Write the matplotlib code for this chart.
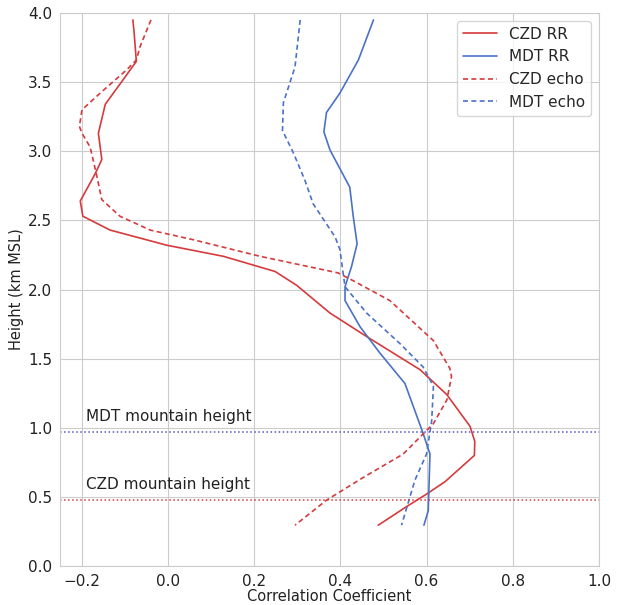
import matplotlib
matplotlib.use("Agg")
import matplotlib.pyplot as plt
import seaborn as sns

# correlation profiles (height in km MSL)
czd_rr_h = [3.95, 3.855, 3.65, 3.52, 3.34, 3.13, 2.94, 2.84, 2.64, 2.53, 2.43, 2.32,
            2.24, 2.13, 2.03, 1.83, 1.66, 1.42, 1.24, 1.01, 0.90, 0.80, 0.61, 0.52, 0.43, 0.295]
czd_rr = [-0.081, -0.078, -0.073, -0.103, -0.145, -0.161, -0.153, -0.168, -0.203, -0.197,
          -0.134, -0.002, 0.129, 0.249, 0.299, 0.376, 0.461, 0.585, 0.647, 0.701, 0.712,
          0.711, 0.643, 0.600, 0.554, 0.488]

czd_echo_h = [3.95, 3.76, 3.66, 3.59, 3.42, 3.30, 3.18, 3.13, 3.03, 2.84, 2.65, 2.53, 2.43,
              2.36, 2.24, 2.12, 2.07, 1.92, 1.63, 1.43, 1.37, 1.20, 1.03, 0.81, 0.64, 0.476, 0.295]
czd_echo = [-0.039, -0.064, -0.073, -0.095, -0.157, -0.199, -0.205, -0.199, -0.180, -0.166,
            -0.153, -0.111, -0.041, 0.059, 0.214, 0.395, 0.426, 0.515, 0.616, 0.654, 0.658,
            0.647, 0.616, 0.546, 0.453, 0.368, 0.295]

mdt_rr_h = [3.95, 3.66, 3.42, 3.28, 3.14, 3.01, 2.74, 2.53, 2.33, 2.165, 2.02, 1.92, 1.73,
            1.54, 1.32, 0.96, 0.81, 0.40, 0.295]
mdt_rr = [0.477, 0.442, 0.399, 0.368, 0.362, 0.376, 0.422, 0.430, 0.439, 0.426, 0.411,
          0.411, 0.446, 0.492, 0.550, 0.592, 0.608, 0.604, 0.594]

mdt_echo_h = [3.95, 3.61, 3.35, 3.15, 2.99, 2.79, 2.62, 2.38, 2.29, 2.02, 1.83, 1.61, 1.44,
              1.30, 1.05, 0.81, 0.62, 0.295]
mdt_echo = [0.307, 0.295, 0.268, 0.266, 0.291, 0.318, 0.337, 0.388, 0.399, 0.411, 0.461,
            0.538, 0.592, 0.616, 0.612, 0.600, 0.573, 0.542]

mdt_mtn = 0.97
czd_mtn = 0.476

red = '#d63a3c'
blue = '#4a72c6'

sns.set_style("whitegrid")
plt.rcParams['font.family'] = ['DejaVu Sans']

fig = plt.figure(figsize=(6.21, 6.05), dpi=100)
ax = fig.add_axes([60/621, 1-566/605, 539/621, 553/605])

ax.plot(czd_rr, czd_rr_h, color=red, lw=1.2, label='CZD RR')
ax.plot(mdt_rr, mdt_rr_h, color=blue, lw=1.2, label='MDT RR')
ax.plot(czd_echo, czd_echo_h, color=red, lw=1.2, ls=(0, (3, 2)), label='CZD echo')
ax.plot(mdt_echo, mdt_echo_h, color=blue, lw=1.2, ls=(0, (3, 2)), label='MDT echo')

ax.axhline(mdt_mtn, color='#5555cc', ls=':', lw=1.1)
ax.axhline(czd_mtn, color=red, ls=':', lw=1.1)
ax.text(-0.19, mdt_mtn + 0.06, 'MDT mountain height', fontsize=11, color='#222222', va='bottom')
ax.text(-0.19, czd_mtn + 0.06, 'CZD mountain height', fontsize=11, color='#222222', va='bottom')

ax.set_xlim(-0.25, 1.0)
ax.set_ylim(0, 4.0)
ax.set_xticks([-0.2, 0.0, 0.2, 0.4, 0.6, 0.8, 1.0])
ax.set_yticks([0.0, 0.5, 1.0, 1.5, 2.0, 2.5, 3.0, 3.5, 4.0])
ax.tick_params(labelsize=11, colors='#222222', pad=2)
ax.set_xlabel('Correlation Coefficient', fontsize=10.5, color='#222222', labelpad=0)
ax.set_ylabel('Height (km MSL)', fontsize=10.5, color='#222222', labelpad=3)

ax.legend(loc='upper right', fontsize=11, frameon=True, handlelength=2.2)

fig.savefig('out.png', dpi=100)
